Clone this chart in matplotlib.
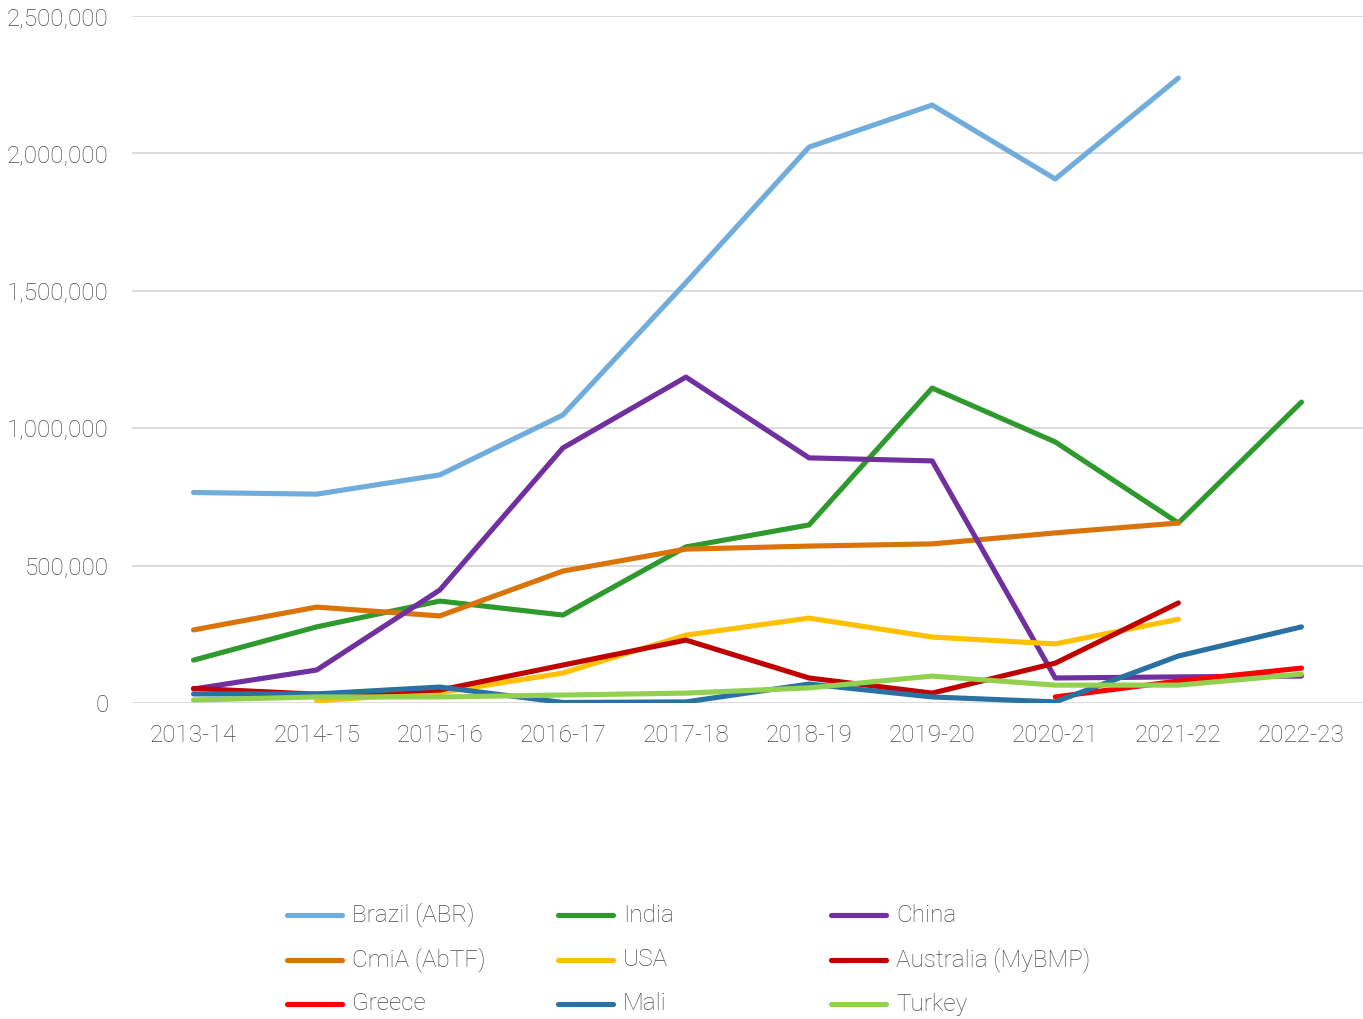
import numpy as np
import matplotlib.pyplot as plt
from matplotlib.ticker import FuncFormatter
from matplotlib.lines import Line2D

plt.rcParams['font.family'] = ['Roboto', 'DejaVu Sans']

# Dados
seasons = ["2013-14", "2014-15", "2015-16", "2016-17", "2017-18",
           "2018-19", "2019-20", "2020-21", "2021-22", "2022-23"]

brazil = [766000, 760000, 830000, 1048000, 1530000, 2023000, 2176000, 1907000, 2274000, None]
india = [156000, 277000, 371000, 320000, 568000, 648000, 1146000, 950000, 655000, 1095000]
china = [51000, 120000, 411000, 928000, 1186000, 892000, 881000, 91000, 95000, 98000]
cmia = [266000, 349000, 317000, 480000, 560000, 571000, 579000, 619000, 655000, None]
usa = [None, 8000, 38000, 109000, 247000, 309000, 240000, 215000, 305000, None]
australia = [53000, 32000, 47000, 138000, 229000, 91000, 36000, 145000, 364000, None]
greece = [None, None, None, None, None, None, None, 22000, 80000, 127000]
mali = [33000, 33000, 58000, 2000, 4000, 69000, 22000, 4000, 171000, 277000]
turkey = [11000, 22000, 22000, 29000, 36000, 55000, 98000, 65000, 65000, 105000]

series = [
    ("Brazil (ABR)", brazil, "#70ADDC"),
    ("India", india, "#2E9A2E"),
    ("CmiA (AbTF)", cmia, "#D9730A"),
    ("China", china, "#7030A0"),
    ("USA", usa, "#FFC000"),
    ("Australia (MyBMP)", australia, "#C00000"),
    ("Greece", greece, "#FF0000"),
    ("Mali", mali, "#2A71A3"),
    ("Turkey", turkey, "#92D050"),
]

# ordem da legenda (linhas de 3)
legend_order = ["Brazil (ABR)", "India", "China",
                "CmiA (AbTF)", "USA", "Australia (MyBMP)",
                "Greece", "Mali", "Turkey"]

TXT = '#4A4A4A'
W, H = 1363, 1019
fig = plt.figure(figsize=(W / 100, H / 100), dpi=100)
ax = fig.add_axes([132 / W, 1 - 703 / H, 1 - 132 / W, (703 - 16) / H])

x = np.arange(len(seasons))
colors = {}
for name, vals, color in series:
    y = np.array([np.nan if v is None else v for v in vals], dtype=float)
    ax.plot(x, y, color=color, linewidth=3.7, solid_capstyle='round',
            solid_joinstyle='round')
    colors[name] = color

ax.set_xlim(-0.5, 9.5)
ax.set_ylim(0, 2500000)
ax.set_yticks(np.arange(0, 2500001, 500000))
ax.yaxis.set_major_formatter(FuncFormatter(lambda v, p: f"{int(v):,}"))
ax.set_xticks(x)
ax.set_xticklabels(seasons)

ax.grid(axis='y', color='#D9D9D9', linewidth=1.3)
ax.set_axisbelow(True)
for s in ax.spines.values():
    s.set_visible(False)
ax.tick_params(axis='both', length=0, labelsize=17.5, labelcolor=TXT)
ax.tick_params(axis='x', pad=15)
ax.tick_params(axis='y', pad=17)
for lab in ax.get_xticklabels() + ax.get_yticklabels():
    lab.set_fontweight('light')

# Legenda manual em grade 3x3
col_x = [287, 558, 831]
row_y = [915, 960, 1004]
for i, name in enumerate(legend_order):
    cx = col_x[i % 3]
    ry = row_y[i // 3]
    fy = 1 - ry / H
    fig.add_artist(Line2D([cx / W, (cx + 55) / W], [fy, fy], color=colors[name],
                          linewidth=3.7, solid_capstyle='round',
                          transform=fig.transFigure))
    fig.text((cx + 65) / W, fy, name, fontsize=17.5, color=TXT,
             fontweight='light', va='center', ha='left')

fig.savefig("out.png", dpi=100)
